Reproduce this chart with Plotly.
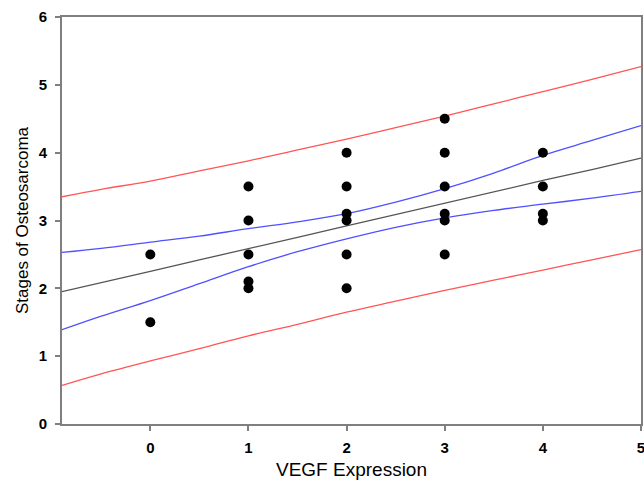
import plotly.graph_objects as go

# Observed data points
x_pts = [0, 0, 1, 1, 1, 1, 1, 2, 2, 2, 2, 2, 2, 3, 3, 3, 3, 3, 3, 4, 4, 4, 4]
y_pts = [2.5, 1.5, 3.5, 3.0, 2.5, 2.1, 2.0, 4.0, 3.5, 3.1, 3.0, 2.5, 2.0,
         4.5, 4.0, 3.5, 3.1, 3.0, 2.5, 4.0, 3.5, 3.1, 3.0]

# Curves
x_curve = [-0.9, -0.5, 0, 0.5, 1, 1.5, 2, 2.5, 3, 3.5, 4, 4.5, 5]
fit_line = [1.95, 2.08, 2.25, 2.42, 2.58, 2.75, 2.92, 3.09, 3.25, 3.42, 3.59, 3.75, 3.92]
ci_upper = [2.53, 2.59, 2.68, 2.77, 2.88, 2.98, 3.10, 3.27, 3.47, 3.70, 3.96, 4.18, 4.40]
ci_lower = [1.39, 1.59, 1.82, 2.07, 2.32, 2.54, 2.73, 2.90, 3.04, 3.15, 3.24, 3.33, 3.43]
pi_upper = [3.35, 3.46, 3.58, 3.73, 3.88, 4.04, 4.20, 4.37, 4.54, 4.72, 4.90, 5.08, 5.27]
pi_lower = [0.57, 0.74, 0.93, 1.11, 1.30, 1.47, 1.65, 1.81, 1.97, 2.12, 2.27, 2.42, 2.57]

x_ticks = [0, 1, 2, 3, 4, 5]
y_ticks = [0, 1, 2, 3, 4, 5, 6]

fig = go.Figure()
lw = 1.3
fig.add_trace(go.Scatter(x=x_curve, y=pi_upper, mode="lines", line=dict(color="#ff5555", width=lw, shape="spline")))
fig.add_trace(go.Scatter(x=x_curve, y=pi_lower, mode="lines", line=dict(color="#ff5555", width=lw, shape="spline")))
fig.add_trace(go.Scatter(x=x_curve, y=ci_upper, mode="lines", line=dict(color="#5050ff", width=lw, shape="spline")))
fig.add_trace(go.Scatter(x=x_curve, y=ci_lower, mode="lines", line=dict(color="#5050ff", width=lw, shape="spline")))
fig.add_trace(go.Scatter(x=x_curve, y=fit_line, mode="lines", line=dict(color="#555555", width=lw)))
fig.add_trace(go.Scatter(x=x_pts, y=y_pts, mode="markers", marker=dict(color="black", size=10)))

axis_common = dict(
    showgrid=False, zeroline=False, showline=True, linecolor="#7f7f7f", linewidth=2,
    mirror=True, ticks="outside", ticklen=5, tickwidth=1.5, tickcolor="#7f7f7f",
    tickfont=dict(family="Liberation Sans", size=15, color="black", weight="bold"),
    automargin=False, ticklabeloverflow="allow",
)
fig.update_xaxes(range=[-0.9, 5], tickvals=x_ticks, ticktext=[str(t) for t in x_ticks],
                 ticklabelstandoff=4,
                 title=dict(text="VEGF Expression", font=dict(family="Liberation Sans", size=19, color="black"), standoff=8),
                 **axis_common)
fig.update_yaxes(range=[0, 6], tickvals=y_ticks, ticktext=[str(t) for t in y_ticks],
                 ticklabelstandoff=5,
                 title=dict(text="Stages of Osteosarcoma", font=dict(family="Liberation Sans", size=17, color="black"), standoff=6),
                 **axis_common)
fig.update_layout(
    width=644, height=484, showlegend=False,
    margin=dict(l=62, r=3, t=17, b=60),
    plot_bgcolor="white", paper_bgcolor="white",
)
fig.write_html(
    "out.html",
    config={"displayModeBar": False},
    post_script="document.body.style.margin='0';document.body.style.overflow='hidden';",
)
